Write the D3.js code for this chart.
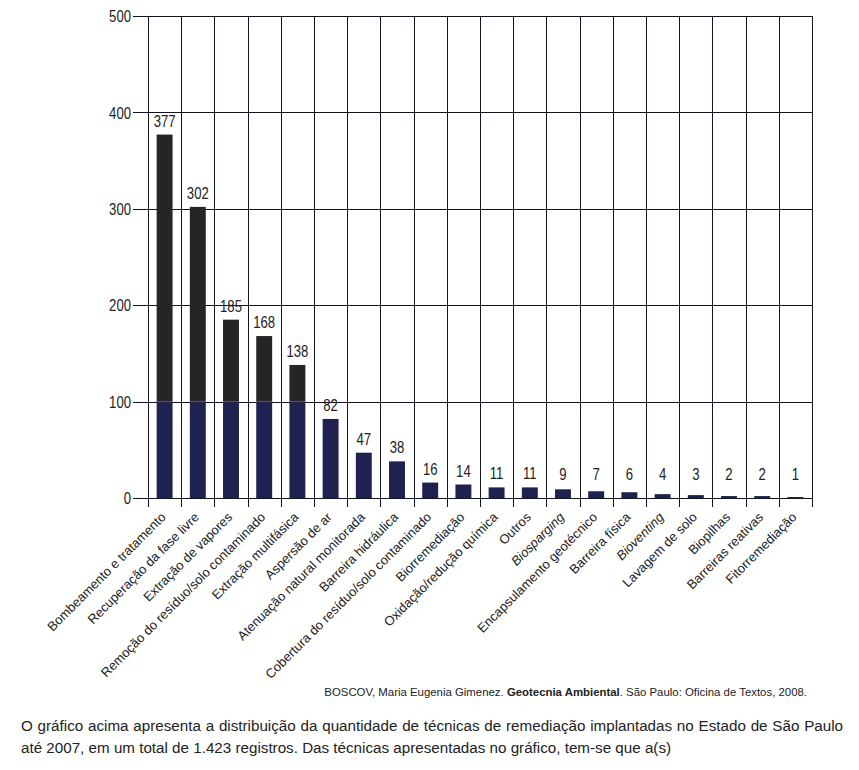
<!DOCTYPE html>
<html><head><meta charset="utf-8">
<script src="https://cdn.jsdelivr.net/npm/d3@7/dist/d3.min.js"></script>
<style>
body{margin:0;background:#fff;}
svg{display:block;}
.para{position:absolute;left:21px;width:822px;font-family:"Liberation Sans",Arial,sans-serif;font-size:15.2px;color:#222;white-space:nowrap;}
</style></head>
<body>
<div id="chart" style="position:relative;width:859px;height:770px;"></div>
<script>
const categories = ["Bombeamento e tratamento","Recuperação da fase livre","Extração de vapores","Remoção do resíduo/solo contaminado","Extração multifásica","Aspersão de ar","Atenuação natural monitorada","Barreira hidráulica","Cobertura do resíduo/solo contaminado","Biorremediação","Oxidação/redução química","Outros","Biosparging","Encapsulamento geotécnico","Barreira física","Bioventing","Lavagem de solo","Biopilhas","Barreiras reativas","Fitorremediação"];
const italicCats = ["Biosparging","Bioventing"];
const values = [377,302,185,168,138,82,47,38,16,14,11,11,9,7,6,4,3,2,2,1];
const yTicks = [0,100,200,300,400,500];
const sourceParts = [["BOSCOV, Maria Eugenia Gimenez. ",false],["Geotecnia Ambiental",true],[". São Paulo: Oficina de Textos, 2008.",false]];
const paraLines = ["O gráfico acima apresenta a distribuição da quantidade de técnicas de remediação implantadas no Estado de São Paulo","até 2007, em um total de 1.423 registros. Das técnicas apresentadas no gráfico, tem-se que a(s)"];

(function(){
const W=859,H=770;
const pL=148,pR=812,pT=16,pB=498;
const lineCol="#141420";
const txtCol="#222";
const font='"Liberation Sans",Arial,sans-serif';
const narrow=0.82;
const svg=d3.select("#chart").append("svg").attr("width",W).attr("height",H);

const x=d3.scaleBand().domain(categories).range([pL,pR]).paddingInner(0).paddingOuter(0);
const y=d3.scaleLinear().domain([0,500]).range([pB,pT]);

// horizontal grid + y axis
const yAxis=d3.axisLeft(y).tickValues(yTicks).tickSize(pR-pL+15).tickFormat(d3.format("d"));
const gy=svg.append("g").attr("transform",`translate(${pR},0)`).call(yAxis);
gy.select(".domain").remove();
gy.selectAll(".tick line").attr("stroke",lineCol).attr("stroke-width",1).attr("shape-rendering","crispEdges");
gy.selectAll(".tick text").attr("x",0).attr("transform",`translate(${-(pR-pL+17)},0) scale(${narrow},1)`)
  .attr("font-family",font).attr("font-size",16).attr("fill",txtCol).attr("dy","0.35em");

// vertical lines (category boundaries)
const bounds=categories.map(c=>x(c)).concat([pR]);
svg.append("g").selectAll("line").data(bounds).join("line")
 .attr("x1",d=>Math.round(d)+0.5).attr("x2",d=>Math.round(d)+0.5)
 .attr("y1",pT).attr("y2",pB+9)
 .attr("stroke",lineCol).attr("stroke-width",1);

// bars: navy below 100, dark above
const split=100;
const bw=x.bandwidth()*0.48;
const gb=svg.append("g");
gb.selectAll("rect.low").data(values).join("rect").attr("class","low")
 .attr("x",(d,i)=>x(categories[i])+(x.bandwidth()-bw)/2).attr("width",bw)
 .attr("y",d=>y(Math.min(d,split))).attr("height",d=>y(0)-y(Math.min(d,split)))
 .attr("fill","#1f2150");
gb.selectAll("rect.high").data(values.map((v,i)=>i).filter(i=>values[i]>split)).join("rect").attr("class","high")
 .attr("x",i=>x(categories[i])+(x.bandwidth()-bw)/2).attr("width",bw)
 .attr("y",i=>y(values[i])).attr("height",i=>y(split)-y(values[i]))
 .attr("fill","#262424");

// zero line on top
svg.append("line").attr("x1",pL-15).attr("x2",pR).attr("y1",Math.round(y(0))+0.5).attr("y2",Math.round(y(0))+0.5).attr("stroke",lineCol);

// value labels
svg.append("g").selectAll("text").data(values).join("text")
 .attr("transform",(d,i)=>`translate(${x(categories[i])+x.bandwidth()/2},${Math.min(y(d)-8,480)}) scale(${narrow},1)`)
 .attr("text-anchor","middle").attr("font-family",font).attr("font-size",16).attr("fill",txtCol)
 .text(d=>d);

// category labels
svg.append("g").selectAll("text").data(categories).join("text")
 .attr("transform",c=>`translate(${x(c)+x.bandwidth()/2+2},518) rotate(-45)`)
 .attr("text-anchor","end").attr("font-family",font).attr("font-size",13).attr("fill",txtCol)
 .attr("font-style",c=>italicCats.includes(c)?"italic":"normal")
 .text(c=>c);

// source
const src=svg.append("text").attr("x",807).attr("y",696).attr("text-anchor","end")
 .attr("font-family",font).attr("font-size",11.4).attr("fill",txtCol);
sourceParts.forEach(p=>src.append("tspan").attr("font-weight",p[1]?"bold":"normal").text(p[0]));

// paragraph
const chart=d3.select("#chart");
chart.append("div").attr("class","para").style("top","717px").style("text-align","justify").style("text-align-last","justify").text(paraLines[0]);
chart.append("div").attr("class","para").style("top","739px").text(paraLines[1]);
})();
</script>
</body></html>
